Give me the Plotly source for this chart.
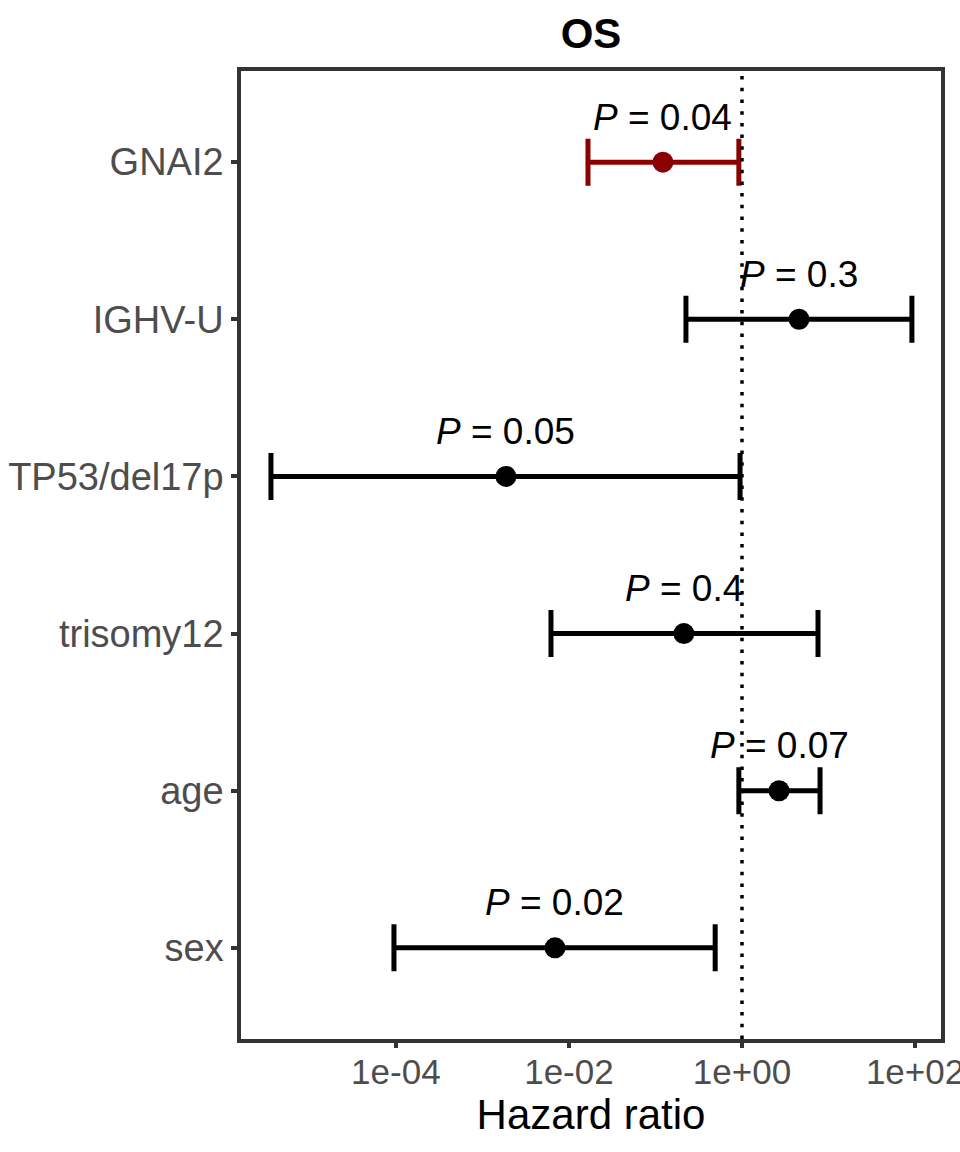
import numpy as np
import plotly.graph_objects as go

# ---- data ----
variables = ["GNAI2", "IGHV-U", "TP53/del17p", "trisomy12", "age", "sex"]
hazard_ratio = [0.122, 4.56, 0.00187, 0.213, 2.68, 0.0069]
ci_lower = [0.0166, 0.225, 3.6e-6, 0.0062, 0.92, 9.5e-5]
ci_upper = [0.92, 92.0, 0.95, 7.56, 7.98, 0.49]
p_labels = ["0.04", "0.3", "0.05", "0.4", "0.07", "0.02"]
highlight = ["GNAI2"]
x_tickvals = [1e-4, 1e-2, 1e0, 1e2]
x_ticktext = ["1e-04", "1e-02", "1e+00", "1e+02"]
ref_hr = 1.0
title_text = "OS"
x_title = "Hazard ratio"

FONT = "Liberation Sans, Arial, Helvetica, sans-serif"
colors = ["#8B0000" if v in highlight else "#000000" for v in variables]

fig = go.Figure()
for v, hr, lo, hi, c in zip(variables, hazard_ratio, ci_lower, ci_upper, colors):
    fig.add_trace(go.Scatter(
        x=[hr], y=[v], mode="markers",
        marker=dict(size=21, color=c, symbol="circle"),
        error_x=dict(type="data", symmetric=False,
                     array=[hi - hr], arrayminus=[hr - lo],
                     color=c, thickness=5, width=23.5),
        showlegend=False, cliponaxis=False,
    ))

for v, hr, p in zip(variables, hazard_ratio, p_labels):
    fig.add_annotation(
        x=np.log10(hr), y=v, xref="x", yref="y",
        text=f"<i>P</i> = {p}", showarrow=False, yshift=45,
        font=dict(family=FONT, size=37, color="#000000"),
    )

# shapes on log axes take data values
fig.add_shape(type="line", xref="x", yref="paper",
              x0=ref_hr, x1=ref_hr, y0=0, y1=1, opacity=1,
              line=dict(color="#000000", width=3.5, dash="3.5px,8.2px"), layer="above")

fig.update_layout(
    template="simple_white",
    width=960, height=1152,
    margin=dict(l=241, r=19, t=71, b=113, autoexpand=False),
    paper_bgcolor="white", plot_bgcolor="white",
    title=dict(text=f"<b>{title_text}</b>", x=591/960, xanchor="center",
               y=1 - 33/1152, yanchor="middle", yref="container",
               font=dict(family=FONT, size=42, color="#000000")),
    xaxis=dict(type="log", range=[-5.79, 2.30], automargin=False,
               tickvals=x_tickvals, ticktext=x_ticktext,
               ticks="outside", ticklen=5, tickwidth=4, tickcolor="#333333",
               ticklabeloverflow="allow", ticklabelstandoff=-6,
               tickfont=dict(family=FONT, size=35, color="#4d4d4d"),
               showline=True, linewidth=3.5, linecolor="#333333", mirror=True,
               showgrid=False, zeroline=False,
               title=dict(text=x_title, standoff=2,
                          font=dict(family=FONT, size=42, color="#000000"))),
    yaxis=dict(type="category", categoryorder="array", automargin=False,
               categoryarray=variables[::-1], range=[-0.58, 5.58],
               ticks="outside", ticklen=6, tickwidth=4, tickcolor="#333333",
               tickfont=dict(family=FONT, size=38, color="#4d4d4d"),
               showline=True, linewidth=3.5, linecolor="#333333", mirror=True,
               showgrid=False, zeroline=False),
)

fig.write_html("out.html", config={"displayModeBar": False},
               post_script="document.body.style.margin='0';")
